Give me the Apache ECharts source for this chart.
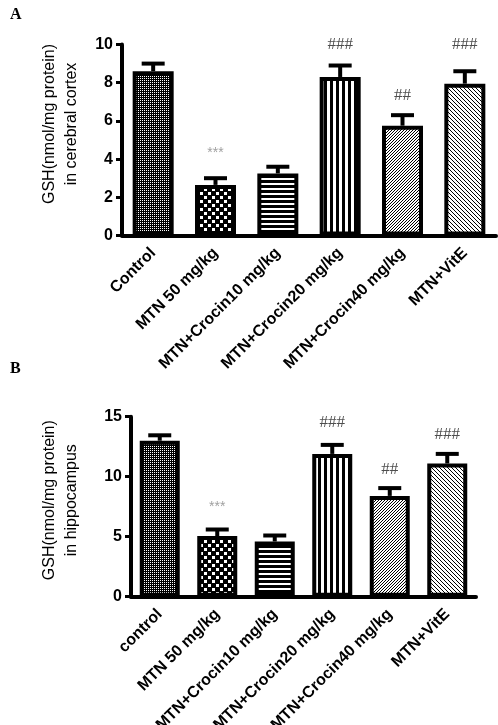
<!DOCTYPE html>
<html><head><meta charset="utf-8">
<script src="https://cdn.jsdelivr.net/npm/echarts@6/dist/echarts.min.js"></script>
<style>html,body{margin:0;padding:0;background:#fff}#c{width:498px;height:725px}</style>
</head><body><div id="c"></div>
<script>
// ---------- data ----------
const categoriesA = ['Control', 'MTN 50 mg/kg', 'MTN+Crocin10 mg/kg', 'MTN+Crocin20 mg/kg', 'MTN+Crocin40 mg/kg', 'MTN+VitE'];
const categoriesB = ['control', 'MTN 50 mg/kg', 'MTN+Crocin10 mg/kg', 'MTN+Crocin20 mg/kg', 'MTN+Crocin40 mg/kg', 'MTN+VitE'];
const valuesA = [8.6, 2.65, 3.25, 8.3, 5.75, 7.95];
const errTopA = [9.0, 3.0, 3.6, 8.9, 6.3, 8.6];
const marksA = ['', '***', '', '###', '##', '###'];
const markPosA = [null, 4.3, null, 10.0, 7.35, 10.0];
const valuesB = [13.0, 5.05, 4.6, 11.9, 8.4, 11.1];
const errTopB = [13.45, 5.6, 5.1, 12.65, 9.05, 11.9];
const marksB = ['', '***', '', '###', '##', '###'];
const markPosB = [null, 7.5, null, 14.5, 10.6, 13.5];
const yTicksA = [0, 10, 2];   // min, max, interval
const yTicksB = [0, 15, 5];
const yNameA = 'GSH(nmol/mg protein)\nin cerebral cortex';
const yNameB = 'GSH(nmol/mg protein)\nin hippocampus';

// ---------- fill patterns ----------
function pat(w, h, draw) {
  const c = document.createElement('canvas'); c.width = w; c.height = h;
  const g = c.getContext('2d'); draw(g, w, h);
  return { image: c, repeat: 'repeat' };
}
const patterns = [
  pat(2, 2, g => { g.fillStyle = '#000'; g.fillRect(0, 0, 2, 2); g.fillStyle = '#fff'; g.fillRect(0, 0, 1, 1); }),
  pat(8, 8, g => { g.fillStyle = '#000'; g.fillRect(0, 0, 8, 8); g.fillStyle = '#fff'; g.fillRect(0, 0, 3, 3); g.fillRect(4, 4, 3, 3); }),
  pat(1, 5, g => { g.fillStyle = '#fff'; g.fillRect(0, 0, 1, 5); g.fillStyle = '#000'; g.fillRect(0, 0, 1, 3); }),
  pat(6, 1, g => { g.fillStyle = '#fff'; g.fillRect(0, 0, 6, 1); g.fillStyle = '#000'; g.fillRect(0, 0, 3, 1); }),
  pat(3, 3, g => { g.fillStyle = '#fff'; g.fillRect(0, 0, 3, 3); g.fillStyle = '#000'; for (let x = 0; x < 3; x++) g.fillRect(x, 2 - x, 1, 1); }),
  pat(4, 4, g => { g.fillStyle = '#fff'; g.fillRect(0, 0, 4, 4); g.fillStyle = '#000'; for (let x = 0; x < 4; x++) g.fillRect(x, x, 1, 1); })
];

function barData(vals) {
  return vals.map((v, i) => ({ value: v, itemStyle: { color: patterns[i] } }));
}
function errData(vals, tops) { return vals.map((v, i) => [i, v, tops[i]]); }
function markData(marks, pos) {
  const out = [];
  marks.forEach((m, i) => { if (m) out.push({ value: [i, pos[i]], name: m }); });
  return out;
}
function errRender(params, api) {
  const i = api.value(0), v = api.value(1), t = api.value(2);
  const p0 = api.coord([i, v]), p1 = api.coord([i, t]);
  const half = 11.5;
  return { type: 'group', children: [
    { type: 'line', shape: { x1: p0[0], y1: p0[1], x2: p1[0], y2: p1[1] }, style: { stroke: '#000', lineWidth: 4 } },
    { type: 'line', shape: { x1: p1[0] - half, y1: p1[1], x2: p1[0] + half, y2: p1[1] }, style: { stroke: '#000', lineWidth: 4 } }
  ] };
}

const sans = 'Liberation Sans, Arial, sans-serif';
function xAxis(idx, cats) {
  return {
    type: 'category', gridIndex: idx, data: cats,
    axisLine: { lineStyle: { color: '#000', width: 4 } },
    axisTick: { alignWithLabel: true, length: 6, lineStyle: { color: '#000', width: 3 } },
    axisLabel: { interval: 0, rotate: 45, margin: 15, color: '#000', fontFamily: sans, fontWeight: 'bold', fontSize: 16 },
    splitLine: { show: false }
  };
}
function yAxis(idx, t, name, gap, shift) {
  return {
    type: 'value', gridIndex: idx, min: t[0], max: t[1], interval: t[2],
    name: name, nameLocation: 'middle', nameRotate: 90, nameGap: gap,
    nameTextStyle: { color: '#000', fontFamily: sans, fontSize: 16, lineHeight: 22, padding: [0, 0, 0, shift] },
    axisLine: { show: true, lineStyle: { color: '#000', width: 4 } },
    axisTick: { show: true, length: 6, lineStyle: { color: '#000', width: 3 } },
    axisLabel: { margin: 9, color: '#000', fontFamily: sans, fontWeight: 'bold', fontSize: 16 },
    splitLine: { show: false }
  };
}
function barSeries(idx, vals, bw) {
  return { type: 'bar', xAxisIndex: idx, yAxisIndex: idx, data: barData(vals), barWidth: bw,
    itemStyle: { borderColor: '#000', borderWidth: 4 }, z: 3, animation: false };
}
function errSeries(idx, vals, tops) {
  return { type: 'custom', xAxisIndex: idx, yAxisIndex: idx, data: errData(vals, tops), renderItem: errRender, z: 2, animation: false };
}
function markSeries(idx, marks, pos) {
  return { type: 'scatter', xAxisIndex: idx, yAxisIndex: idx, data: markData(marks, pos), symbolSize: 0, z: 5, animation: false,
    label: { show: true, position: 'inside', formatter: p => p.name,
      color: '#222', fontFamily: 'Liberation Serif, serif', fontSize: 17 } };
}

const chart = echarts.init(document.getElementById('c'), null, { renderer: 'canvas' });
const mA = markSeries(0, marksA, markPosA);
const mB = markSeries(1, marksB, markPosB);
// lighter asterisks
[mA, mB].forEach(s => s.data.forEach(d => { if (d.name === '***') d.label = { color: '#888', fontSize: 14, fontFamily: sans }; }));

chart.setOption({
  backgroundColor: '#fff',
  animation: false,
  title: [
    { text: 'A', left: 5, top: 2, textStyle: { fontFamily: 'Liberation Serif, serif', fontWeight: 'bold', fontSize: 16, color: '#000' } },
    { text: 'B', left: 5, top: 356, textStyle: { fontFamily: 'Liberation Serif, serif', fontWeight: 'bold', fontSize: 16, color: '#000' } }
  ],
  grid: [
    { left: 122, top: 44.5, width: 374, height: 191, containLabel: false, outerBoundsMode: 'none' },
    { left: 131, top: 416.7, width: 345, height: 180, containLabel: false, outerBoundsMode: 'none' }
  ],
  xAxis: [xAxis(0, categoriesA), xAxis(1, categoriesB)],
  yAxis: [yAxis(0, yTicksA, yNameA, 39, 32), yAxis(1, yTicksB, yNameB, 48, 13)],
  series: [
    barSeries(0, valuesA, 41), errSeries(0, valuesA, errTopA), mA,
    barSeries(1, valuesB, 40), errSeries(1, valuesB, errTopB), mB
  ]
});
</script></body></html>
